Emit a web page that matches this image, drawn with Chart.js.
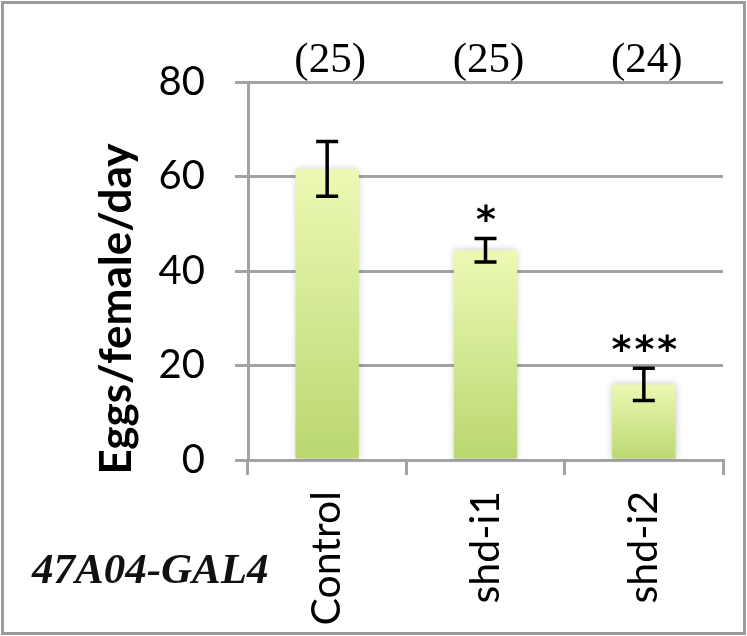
<!DOCTYPE html>
<html>
<head>
<meta charset="utf-8">
<script src="https://cdn.jsdelivr.net/npm/chart.js@4.4.1/dist/chart.umd.min.js"></script>
<style>
  html, body { margin: 0; padding: 0; background: #fff; }
  #wrap { width: 747px; height: 636px; position: relative; }
</style>
</head>
<body>
<div id="wrap"><canvas id="myChart" width="747" height="636"></canvas></div>
<script>
const categories = ['Control', 'shd-i1', 'shd-i2'];
const eggsPerDay = [61.6, 44.4, 16.0];
const errorSE = [5.8, 2.5, 3.4];
const sampleSizes = [25, 25, 24];
const significance = ['', '*', '***'];
const yTicks = [0, 20, 40, 60, 80];
const yTitle = 'Eggs/female/day';
const driverLabel = '47A04-GAL4';

const GRID = '#a3a3a3';

// gradient per bar: light at the top, darker at the base
function barFill(context) {
    const chart = context.chart;
    const { chartArea, scales } = chart;
    if (!chartArea || context.parsed == null) return '#d4e99a';
    const top = scales.y.getPixelForValue(context.parsed.y);
    const base = scales.y.getPixelForValue(0);
    const g = chart.ctx.createLinearGradient(0, top, 0, base);
    g.addColorStop(0, '#ecf9b4');
    g.addColorStop(1, '#bad770');
    return g;
}

const extrasPlugin = {
    id: 'extras',
    beforeDraw(chart) {
        const { ctx, width, height } = chart;
        ctx.save();
        ctx.fillStyle = '#fff';
        ctx.fillRect(0, 0, width, height);
        ctx.restore();
    },
    beforeDatasetsDraw(chart) {
        const ctx = chart.ctx;
        ctx.save();
        ctx.shadowColor = 'rgba(0,0,0,0.22)';
        ctx.shadowBlur = 7;
    },
    afterDatasetsDraw(chart) {
        const { ctx, scales: { y } } = chart;
        ctx.restore();
        const meta = chart.getDatasetMeta(0);
        ctx.save();
        meta.data.forEach((bar, i) => {
            const x = bar.x;
            const hi = y.getPixelForValue(eggsPerDay[i] + errorSE[i]);
            const lo = y.getPixelForValue(eggsPerDay[i] - errorSE[i]);
            ctx.strokeStyle = '#000';
            ctx.lineWidth = 3.5;
            ctx.beginPath();
            ctx.moveTo(x, hi); ctx.lineTo(x, lo);
            ctx.moveTo(x - 11, hi); ctx.lineTo(x + 11, hi);
            ctx.moveTo(x - 11, lo); ctx.lineTo(x + 11, lo);
            ctx.stroke();

            if (significance[i]) {
                ctx.fillStyle = '#000';
                ctx.font = 'bold 38px "DejaVu Sans"';
                ctx.textAlign = 'center';
                ctx.textBaseline = 'alphabetic';
                ctx.letterSpacing = '3px';
                ctx.fillText(significance[i], x + 2, hi - 6);
                ctx.letterSpacing = '0px';
            }

            ctx.fillStyle = '#000';
            ctx.font = '43px "Liberation Serif"';
            ctx.textAlign = 'center';
            ctx.textBaseline = 'alphabetic';
            ctx.fillText('(' + sampleSizes[i] + ')', x + 3, 72);
        });
        ctx.restore();
    },
    afterDraw(chart) {
        const { ctx, width, height } = chart;
        ctx.save();
        // y axis title
        ctx.translate(131, 309);
        ctx.rotate(-Math.PI / 2);
        ctx.font = 'bold 44px Lato';
        ctx.fillStyle = '#000';
        ctx.textAlign = 'center';
        ctx.textBaseline = 'alphabetic';
        ctx.fillText(yTitle, 0, 0);
        ctx.restore();

        ctx.save();
        ctx.font = 'italic bold 43px "Liberation Serif"';
        ctx.fillStyle = '#111';
        ctx.textAlign = 'left';
        ctx.textBaseline = 'alphabetic';
        ctx.fillText(driverLabel, 32, 583);
        ctx.restore();

        // outer frame
        ctx.save();
        ctx.strokeStyle = '#9c9c9c';
        ctx.lineWidth = 3;
        ctx.strokeRect(2.5, 2.5, width - 5, height - 5);
        ctx.restore();
    }
};

const data = {
    labels: categories,
    datasets: [{
        data: eggsPerDay,
        backgroundColor: barFill,
        borderWidth: 0,
        barPercentage: 0.4,
        categoryPercentage: 1
    }]
};

const config = {
    type: 'bar',
    data,
    options: {
        responsive: false,
        animation: false,
        layout: { padding: { top: 82, right: 24, left: 0, bottom: 0 } },
        plugins: { legend: { display: false }, tooltip: { enabled: false } },
        scales: {
            x: {
                grid: { drawOnChartArea: false, drawTicks: true, tickLength: 15, color: GRID, lineWidth: 3, offset: true },
                border: { color: GRID, width: 3 },
                ticks: {
                    color: '#000',
                    font: { family: 'Lato', size: 41 },
                    minRotation: 90,
                    maxRotation: 90,
                    padding: 16
                },
                afterFit(scale) { scale.height = 176; }
            },
            y: {
                min: 0,
                max: 80,
                afterBuildTicks(scale) { scale.ticks = yTicks.map(v => ({ value: v })); },
                grid: { color: GRID, lineWidth: 3, tickLength: 13 },
                border: { color: GRID, width: 3 },
                ticks: {
                    color: '#000',
                    font: { family: 'Lato', size: 40 },
                    padding: 30
                },
                afterFit(scale) { scale.width = 248; }
            }
        }
    },
    plugins: [extrasPlugin]
};

new Chart(document.getElementById('myChart'), config);
</script>
</body>
</html>
